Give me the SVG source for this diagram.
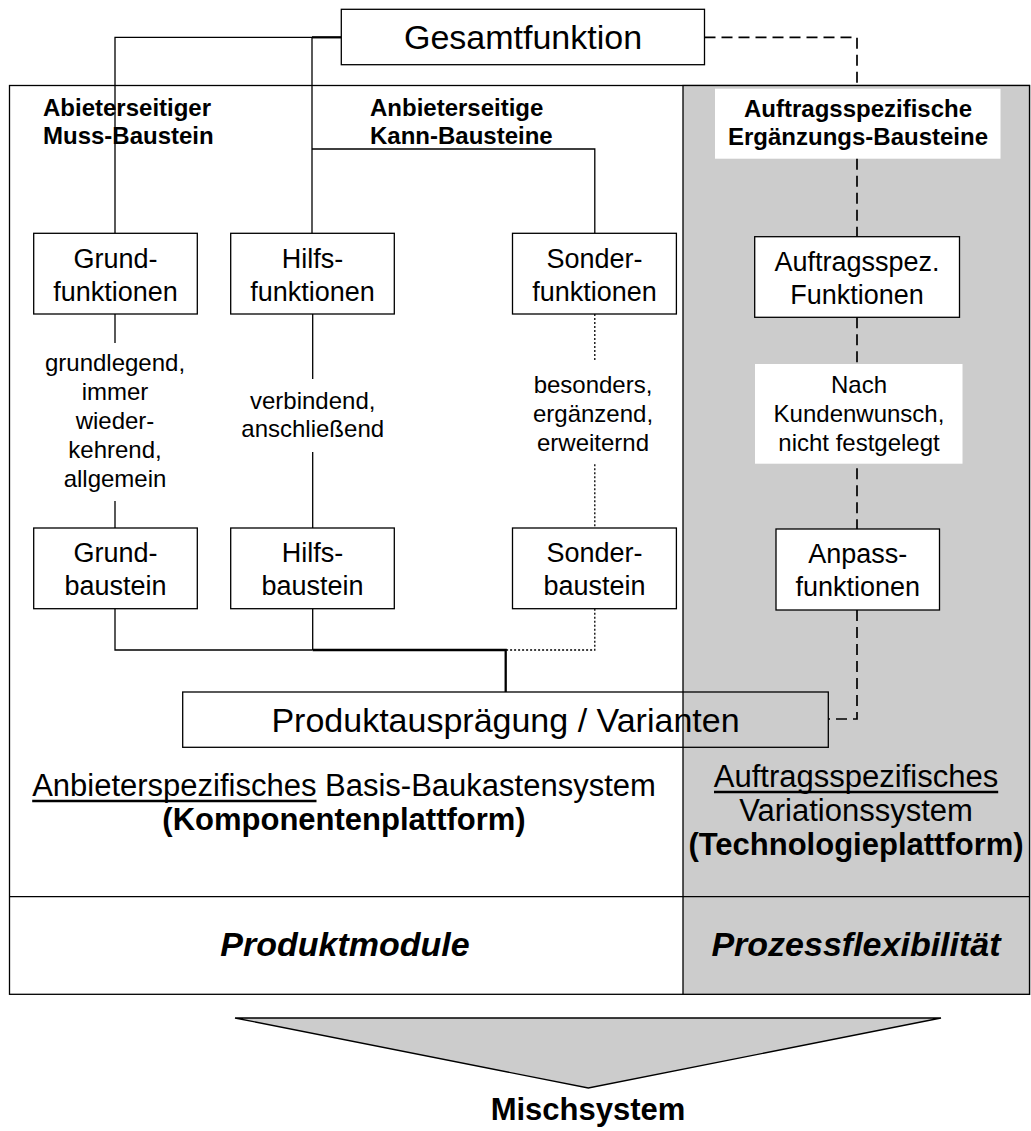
<svg xmlns="http://www.w3.org/2000/svg" width="1031" height="1131" viewBox="0 0 1031 1131">
  <style>
    text { font-family: "Liberation Sans", Arial, sans-serif; fill: #000; }
    .box { fill: #fff; stroke: #000; stroke-width: 1.3; }
    .hollow { fill: none; stroke: #000; stroke-width: 1.3; }
    .label { fill: #fff; stroke: none; }
    .node { font-size: 27px; text-anchor: middle; }
    .big { font-size: 34px; text-anchor: middle; }
    .desc { font-size: 24px; text-anchor: middle; }
    .head { font-size: 24px; font-weight: bold; }
    .sys { font-size: 31px; text-anchor: middle; }
    .bold { font-weight: bold; }
    .cell { font-size: 34px; font-weight: bold; font-style: italic; text-anchor: middle; }
    .ln { fill: none; stroke: #000; stroke-width: 1.3; }
    .thick { stroke-width: 2.3; }
    .dot { stroke-dasharray: 2 2; }
    .dash { stroke-width: 1.7; stroke-dasharray: 11 6; }
    .uline { stroke: #000; stroke-width: 2.5; }
  </style>

  <rect x="0" y="0" width="1031" height="1131" fill="#fff"/>

  <!-- platform frame: supplier side (white) and order side (grey) -->
  <g id="frame">
    <rect x="9.5" y="85.5" width="1020" height="908.8" fill="#fff" stroke="#000" stroke-width="1.3"/>
    <rect x="683" y="85.5" width="346.5" height="908.8" fill="#ccc" stroke="#000" stroke-width="1.3"/>
    <line x1="9.5" y1="896.7" x2="1029.5" y2="896.7" stroke="#000" stroke-width="1.3"/>
  </g>

  <!-- white backing behind the two labels on the grey side -->
  <rect class="label" x="715" y="88.7" width="285.5" height="70"/>
  <rect class="label" x="755" y="364" width="207.5" height="99.7"/>

  <!-- connectors -->
  <g id="connectors">
    <path class="ln" d="M312,37.3 H115 V233.3"/>
    <path class="ln thick" d="M312,37.3 H341.3"/>
    <path class="ln" d="M312,37.3 V233.3"/>
    <path class="ln" d="M312,149 H594.8 V233.3"/>
    <path class="ln" d="M115,314 V343 M115,501 V528"/>
    <path class="ln" d="M312.7,314 V379 M312.7,452 V528"/>
    <path class="ln" d="M115,608.7 V650 H312.7 M312.7,608.7 V650"/>
    <path class="ln thick" d="M312.7,650 H505.7 V692"/>
    <path class="ln dot" d="M594.8,314 V361.7 M594.8,464.3 V528 M594.8,608.7 V650 H505.7"/>
    <path class="ln dash" d="M704.5,37.3 H857 V88.7 M857,158.7 V236.7 M857,317.3 V364 M857,468.3 V529 M857,610 V719 H828.3"/>
  </g>

  <g id="gesamtfunktion">
    <rect class="box" x="341.3" y="9.3" width="363.2" height="55.4"/>
    <text class="big" x="523" y="49">Gesamtfunktion</text>
  </g>

  <!-- column headings -->
  <g id="heading-muss">
    <text class="head" x="43" y="116">Abieterseitiger</text>
    <text class="head" x="43" y="144">Muss-Baustein</text>
  </g>
  <g id="heading-kann">
    <text class="head" x="370" y="116">Anbieterseitige</text>
    <text class="head" x="370" y="144">Kann-Bausteine</text>
  </g>
  <g id="heading-auftrag">
    <text class="head" x="858" y="116.7" text-anchor="middle">Auftragsspezifische</text>
    <text class="head" x="858" y="145.3" text-anchor="middle">Ergänzungs-Bausteine</text>
  </g>

  <!-- function boxes -->
  <g id="grundfunktionen">
    <rect class="box" x="33.7" y="233.3" width="163.6" height="80.7"/>
    <text class="node" x="115.5" y="268">Grund-</text>
    <text class="node" x="115.5" y="301">funktionen</text>
  </g>
  <g id="hilfsfunktionen">
    <rect class="box" x="230.7" y="233.3" width="163.6" height="80.7"/>
    <text class="node" x="312.5" y="268">Hilfs-</text>
    <text class="node" x="312.5" y="301">funktionen</text>
  </g>
  <g id="sonderfunktionen">
    <rect class="box" x="512.5" y="233.3" width="163.9" height="80.7"/>
    <text class="node" x="594.5" y="268">Sonder-</text>
    <text class="node" x="594.5" y="301">funktionen</text>
  </g>
  <g id="auftragsfunktionen">
    <rect class="box" x="754.7" y="236.7" width="204.8" height="80.6"/>
    <text class="node" x="857" y="270.5">Auftragsspez.</text>
    <text class="node" x="857" y="303.5">Funktionen</text>
  </g>

  <!-- characteristics -->
  <g id="desc-grund">
    <text class="desc" x="115" y="371">grundlegend,</text>
    <text class="desc" x="115" y="400">immer</text>
    <text class="desc" x="115" y="429">wieder-</text>
    <text class="desc" x="115" y="458">kehrend,</text>
    <text class="desc" x="115" y="487">allgemein</text>
  </g>
  <g id="desc-hilfs">
    <text class="desc" x="312.7" y="409">verbindend,</text>
    <text class="desc" x="312.7" y="437">anschließend</text>
  </g>
  <g id="desc-sonder">
    <text class="desc" x="593" y="393">besonders,</text>
    <text class="desc" x="593" y="422">ergänzend,</text>
    <text class="desc" x="593" y="451">erweiternd</text>
  </g>
  <g id="desc-kunde">
    <text class="desc" x="859" y="393">Nach</text>
    <text class="desc" x="859" y="422">Kundenwunsch,</text>
    <text class="desc" x="859" y="451">nicht festgelegt</text>
  </g>

  <!-- building blocks -->
  <g id="grundbaustein">
    <rect class="box" x="33.7" y="528" width="163.6" height="80.7"/>
    <text class="node" x="115.5" y="562">Grund-</text>
    <text class="node" x="115.5" y="595">baustein</text>
  </g>
  <g id="hilfsbaustein">
    <rect class="box" x="230.7" y="528" width="163.6" height="80.7"/>
    <text class="node" x="312.5" y="562">Hilfs-</text>
    <text class="node" x="312.5" y="595">baustein</text>
  </g>
  <g id="sonderbaustein">
    <rect class="box" x="512.5" y="528" width="163.9" height="80.7"/>
    <text class="node" x="594.5" y="562">Sonder-</text>
    <text class="node" x="594.5" y="595">baustein</text>
  </g>
  <g id="anpassfunktionen">
    <rect class="box" x="776" y="529" width="163.5" height="81"/>
    <text class="node" x="857.7" y="563">Anpass-</text>
    <text class="node" x="857.7" y="596">funktionen</text>
  </g>

  <g id="produktauspraegung">
    <rect class="hollow" x="182.7" y="692" width="645.6" height="55.3"/>
    <text class="big" x="505.5" y="731.5">Produktausprägung / Varianten</text>
  </g>

  <!-- system captions -->
  <g id="basis-system">
    <text class="sys" x="344" y="796">Anbieterspezifisches Basis-Baukastensystem</text>
    <line class="uline" x1="32.2" y1="801" x2="316.5" y2="801"/>
    <text class="sys bold" x="344" y="830">(Komponentenplattform)</text>
  </g>
  <g id="variations-system">
    <text class="sys" x="856" y="787">Auftragsspezifisches</text>
    <line class="uline" x1="714" y1="792" x2="998.2" y2="792"/>
    <text class="sys" x="856" y="821">Variationssystem</text>
    <text class="sys bold" x="856" y="855">(Technologieplattform)</text>
  </g>

  <g id="produktmodule">
    <text class="cell" x="345" y="956">Produktmodule</text>
  </g>
  <g id="prozessflexibilitaet">
    <text class="cell" x="856" y="956">Prozessflexibilität</text>
  </g>

  <g id="mischsystem">
    <polygon points="235,1018 941,1018 588.3,1088" fill="#ccc" stroke="#000" stroke-width="1.3" stroke-linejoin="miter"/>
    <text class="sys bold" x="588" y="1120">Mischsystem</text>
  </g>
</svg>
